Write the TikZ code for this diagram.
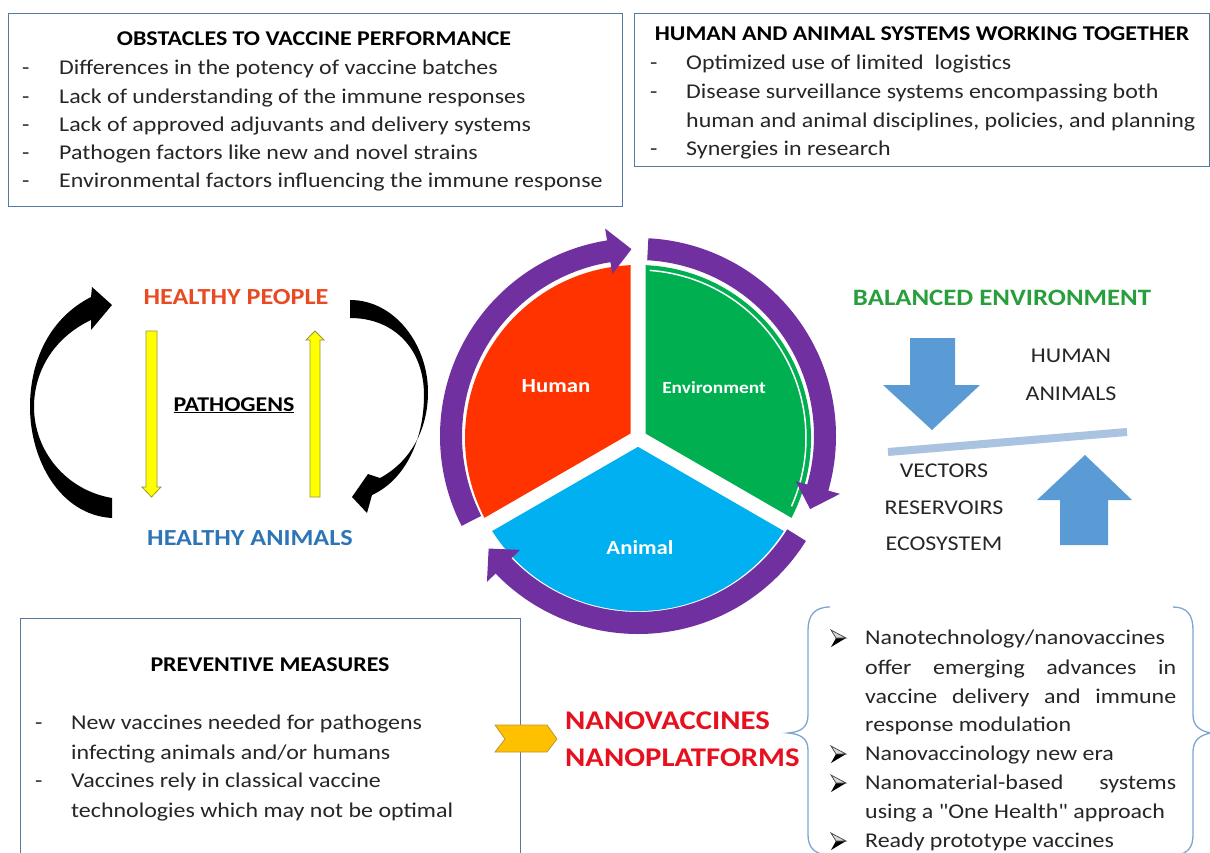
\documentclass[tikz,border=0pt]{standalone}
\usepackage{fontspec}
\setmainfont{Carlito}[FakeStretch=1.14]
\newfontfamily\plainfont{Carlito}[FakeStretch=1.14]
\usetikzlibrary{calc}
\definecolor{boxblue}{RGB}{84,122,160}
\definecolor{txtgray}{RGB}{38,38,38}
\definecolor{hred}{RGB}{255,51,0}
\definecolor{hgreen}{RGB}{0,176,80}
\definecolor{hblue}{RGB}{0,176,240}
\definecolor{rpurple}{RGB}{112,48,160}
\definecolor{hpeople}{RGB}{232,74,35}
\definecolor{hanimals}{RGB}{46,117,182}
\definecolor{benv}{RGB}{40,158,60}
\definecolor{arrblue}{RGB}{91,155,213}
\definecolor{beamblue}{RGB}{170,195,225}
\definecolor{nanored}{RGB}{230,16,30}
\definecolor{chev}{RGB}{255,192,0}
\definecolor{chevline}{RGB}{190,150,40}
\definecolor{yel}{RGB}{255,255,0}
\definecolor{yelline}{RGB}{150,150,60}
\definecolor{bracecol}{RGB}{125,165,210}
\newcommand\bodyfs{\fontsize{21}{25}\selectfont}
\begin{document}
\begin{tikzpicture}[x=1pt,y=1pt,
  boxline/.style={draw=boxblue,line width=1pt},
  rowtxt/.style={anchor=base west,inner sep=0pt,font=\bodyfs,text=txtgray},
  ttltxt/.style={anchor=base,inner sep=0pt,font=\bodyfs\bfseries,text=black},
  bigtxt/.style={anchor=base,inner sep=0pt,font=\fontsize{23}{27}\selectfont\bfseries},
  wlabtxt/.style={anchor=base,inner sep=0pt,text=white,font=\fontsize{20}{24}\selectfont\bfseries},
  captxt/.style={anchor=base,inner sep=0pt,font=\bodyfs,text=txtgray},
  nanotxt/.style={anchor=base west,inner sep=0pt,text=nanored,font=\fontsize{27}{32}\selectfont\bfseries},
  yarrow/.style={fill=yel,draw=yelline,line width=0.8pt},
  barrow/.style={fill=arrblue},
  bracestyle/.style={draw=bracecol,line width=1.3pt},
  bulletpic/.pic={
    \fill[black] (0,0) -- (10,0) -- (-5,-9) -- cycle;
    \draw[black!75,line width=0.7pt,fill=black!15] (0,0) -- (-5,8) -- (10,0) -- cycle;
  }]
\useasboundingbox (0,0) rectangle (1210,-853);
\fill[white] (0,0) rectangle (1210,-853);

% ---------- top boxes ----------
\draw[boxline] (8,-14) rectangle (622,-207);
\node[ttltxt] (obst) at (314,-46) {OBSTACLES TO VACCINE PERFORMANCE};
\foreach \y/\t [count=\i] in {75/Differences in the potency of vaccine batches,
  104/Lack of understanding of the immune responses,
  132/Lack of approved adjuvants and delivery systems,
  160/Pathogen factors like new and novel strains,
  188/Environmental factors influencing the immune response}{
  \node[rowtxt] (od\i) at (22,-\y) {-};
  \node[rowtxt] (ot\i) at (59,-\y) {\t};
}
\draw[boxline] (634,-14) rectangle (1209,-167);
\node[ttltxt] (hasw) at (922,-41) {HUMAN AND ANIMAL SYSTEMS WORKING TOGETHER};
\node[rowtxt] (hd1) at (650,-70) {-};
\node[rowtxt] (ht1) at (686,-70) {Optimized use of limited\ \ logistics};
\node[rowtxt] (hd2) at (650,-99) {-};
\node[rowtxt] (ht2) at (686,-99) {Disease surveillance systems encompassing both};
\node[rowtxt] (ht3) at (686,-128) {human and animal disciplines, policies, and planning};
\node[rowtxt] (hd4) at (650,-156) {-};
\node[rowtxt] (ht4) at (686,-156) {Synergies in research};

% ---------- left cycle ----------
\node[bigtxt,text=hpeople] (people) at (236,-304) {HEALTHY PEOPLE};
\node[bigtxt,text=hanimals] (animals) at (250,-545) {HEALTHY ANIMALS};
\node[ttltxt] (patho) at (234,-411) {\underline{PATHOGENS}};
\draw[yarrow] (146,-331) -- (157,-331) -- (157,-487) -- (161,-487) -- (151.5,-497) -- (142,-487) -- (146,-487) -- cycle;
\draw[yarrow] (310,-497) -- (320,-497) -- (320,-340) -- (324,-340) -- (315,-331) -- (306,-340) -- (310,-340) -- cycle;
% black curved arrows
\fill[black] (91,-297) .. controls (50,-318) and (30,-360) .. (30,-407)
  .. controls (30,-460) and (60,-515) .. (112,-518) -- (112,-498)
  .. controls (65,-490) and (34,-450) .. (34,-407)
  .. controls (34,-370) and (55,-337) .. (91,-320)
  -- (91,-330) -- (112,-305) -- (92,-287) -- cycle;
\fill[black] (350,-300) .. controls (395,-300) and (428,-345) .. (428,-392)
  .. controls (428,-430) and (410,-462) .. (380,-478)
  -- (368,-474) -- (352,-497) -- (367,-513) -- (372,-495)
  .. controls (405,-480) and (424,-440) .. (424,-395)
  .. controls (424,-350) and (395,-318) .. (350,-318) -- cycle;

% ---------- central pie ----------
\begin{scope}[shift={(638,-438)}]
  \fill[hred] (0,0) -- (90:173pt) arc[start angle=90,end angle=210,radius=173pt] -- cycle;
  \fill[hgreen] (0,0) -- (-30:173pt) arc[start angle=-30,end angle=90,radius=173pt] -- cycle;
  \fill[hblue] (0,0) -- (210:173pt) arc[start angle=210,end angle=330,radius=173pt] -- cycle;
  \draw[white,line width=1.5pt] (86:168pt) arc[start angle=86,end angle=-24,radius=168pt];
  \draw[white,line width=15pt] (0,0) -- (90:182pt) (0,0) -- (210:182pt) (0,0) -- (330:182pt);
\end{scope}
\begin{scope}[shift={(638,-436)}]
  \fill[rpurple] (207:198pt) arc[start angle=207,end angle=99,radius=198pt] -- (99:210pt) -- (92:187pt) -- (99:164pt) -- (99:176pt) arc[start angle=99,end angle=207,radius=176pt] -- cycle;
  \fill[rpurple] (87:198pt) arc[start angle=87,end angle=-16,radius=198pt] -- (-16:210pt) -- (-23:187pt) -- (-16:164pt) -- (-16:176pt) arc[start angle=-16,end angle=87,radius=176pt] -- cycle;
  \fill[rpurple] (-32:198pt) arc[start angle=-32,end angle=-136,radius=198pt] -- (-136:210pt) -- (-143:187pt) -- (-136:164pt) -- (-136:176pt) arc[start angle=-136,end angle=-32,radius=176pt] -- cycle;
\end{scope}
\node[wlabtxt] (human) at (556,-392) {Human};
\node[wlabtxt,font=\fontsize{17}{20}\selectfont\bfseries] (env) at (714,-393) {Environment};
\node[wlabtxt] (animal) at (640,-554) {Animal};

% ---------- balanced environment ----------
\node[bigtxt,text=benv,font=\fontsize{23.5}{27}\selectfont\bfseries] (balenv) at (1002,-305) {BALANCED ENVIRONMENT};
\fill[barrow] (910,-338) -- (955,-338) -- (955,-385) -- (980,-385) -- (932,-430) -- (883,-385) -- (910,-385) -- cycle;
\fill[barrow] (1060,-545) -- (1108,-545) -- (1108,-500) -- (1132,-500) -- (1085,-455) -- (1037,-500) -- (1060,-500) -- cycle;
\draw[beamblue,line width=8pt] (888,-452) -- (1127,-432);
\node[captxt] (chuman) at (1071,-362) {HUMAN};
\node[captxt] (canimals) at (1071,-400) {ANIMALS};
\node[captxt] (cvect) at (944,-477) {VECTORS};
\node[captxt] (cres) at (944,-514) {RESERVOIRS};
\node[captxt] (ceco) at (944,-550) {ECOSYSTEM};

% ---------- preventive measures ----------
\draw[boxline] (20,-853) -- (20,-618) -- (520,-618) -- (520,-853);
\node[ttltxt] (prev) at (270,-671) {PREVENTIVE MEASURES};
\node[rowtxt] (pd1) at (35,-729) {-};
\node[rowtxt] (pt1) at (71,-729) {New vaccines needed for pathogens};
\node[rowtxt] (pt2) at (71,-759) {infecting animals and/or humans};
\node[rowtxt] (pd3) at (35,-787) {-};
\node[rowtxt] (pt3) at (71,-787) {Vaccines rely in classical vaccine};
\node[rowtxt] (pt4) at (71,-817) {technologies which may not be optimal};
\draw[fill=chev,draw=chevline,line width=0.8pt] (495,-725) -- (547,-725) -- (557,-739) -- (547,-752) -- (495,-752) -- (505,-739) -- cycle;
\node[nanotxt] (nv) at (565,-729) {NANOVACCINES};
\node[nanotxt] (np) at (565,-766) {NANOPLATFORMS};

% ---------- braces and list ----------
\draw[bracestyle] (830,-607) .. controls (815,-607) and (808,-615) .. (808,-630) -- (808,-715)
  .. controls (808,-728) and (800,-732) .. (788,-733)
  .. controls (800,-734) and (808,-738) .. (808,-750) -- (808,-835)
  .. controls (808,-848) and (815,-853) .. (825,-855);
\draw[bracestyle] (1173,-607) .. controls (1187,-607) and (1193,-615) .. (1193,-630) -- (1193,-715)
  .. controls (1193,-726) and (1200,-731) .. (1211,-733)
  .. controls (1200,-735) and (1193,-740) .. (1193,-752) -- (1193,-835)
  .. controls (1193,-848) and (1187,-853) .. (1178,-855);
\pic at (836,-638) {bulletpic};
\node[rowtxt] (l1) at (865,-644) {Nanotechnology/nanovaccines};
\node[rowtxt] (l2) at (865,-674) {\makebox[311pt][s]{offer emerging advances in}};
\node[rowtxt] (l3) at (865,-703) {\makebox[311pt][s]{vaccine delivery and immune}};
\node[rowtxt] (l4) at (865,-731) {response modulation};
\pic at (836,-754) {bulletpic};
\node[rowtxt] (l5) at (865,-760) {Nanovaccinology new era};
\pic at (836,-783) {bulletpic};
\node[rowtxt] (l6) at (865,-789) {\makebox[311pt][s]{Nanomaterial-based systems}};
\node[rowtxt] (l7) at (865,-818) {\plainfont using a "One Health" approach};
\pic at (836,-841) {bulletpic};
\node[rowtxt] (l8) at (865,-847) {Ready prototype vaccines};
\end{tikzpicture}
\end{document}
